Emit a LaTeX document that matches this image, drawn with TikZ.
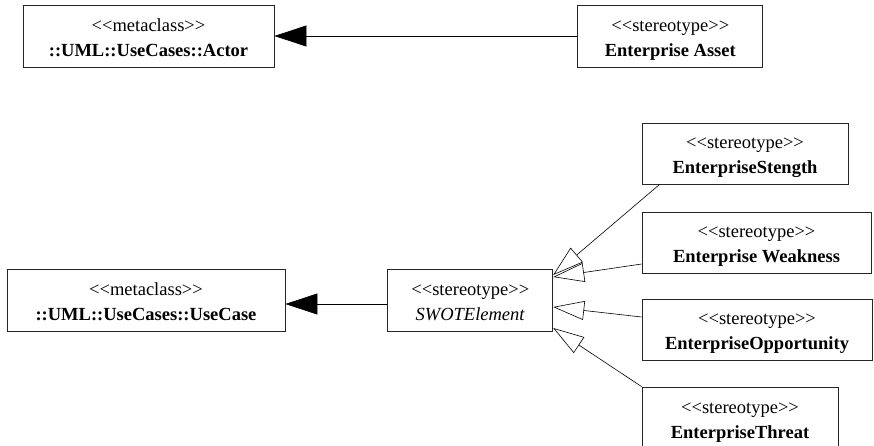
\documentclass[tikz,border=0pt]{standalone}
\usepackage{fontspec}
\setmainfont{Liberation Serif}
\usetikzlibrary{arrows.meta, positioning}
\newcommand{\stereo}[1]{<\kern0pt<#1>\kern0pt>}

\begin{document}
\begin{tikzpicture}[x=1pt, y=-1pt,
      box/.style={draw=black!85, line width=0.8pt, minimum height=62pt, inner sep=0pt,
                  text height=43pt, text depth=3pt,
                  align=center, font=\fontsize{18.5}{25}\selectfont},
      gen/.style={-{Triangle[open, length=31pt, width=19pt]}, line width=0.6pt},
      ext/.style={-{Triangle[length=32pt, width=21pt]}, line width=0.6pt}]
    \useasboundingbox (0,0) rectangle (874,445);
    \node[box, minimum width=251pt] (actor) at (148.5,36) {\stereo{metaclass}\\\textbf{::UML::UseCases::Actor}};
    \node[box, minimum width=185pt, right=303pt of actor] (asset) {\stereo{stereotype}\\\textbf{Enterprise Asset}};
    \node[box, minimum width=278pt] (usecase) at (146,300) {\stereo{metaclass}\\\textbf{::UML::UseCases::UseCase}};
    \node[box, minimum width=165pt, right=102pt of usecase] (swot) {\stereo{stereotype}\\\textit{SWOTElement}};
    \node[box, minimum width=206pt, minimum height=61pt] (strength) at (745,153.5) {\stereo{stereotype}\\\textbf{EnterpriseStength}};
    \node[box, minimum width=229pt, minimum height=61pt] (weakness) at (756.5,242.5) {\stereo{stereotype}\\\textbf{Enterprise Weakness}};
    \node[box, minimum width=230pt, minimum height=61pt] (opportunity) at (757,329.5) {\stereo{stereotype}\\\textbf{EnterpriseOpportunity}};
    \node[box, minimum width=196pt] (threat) at (740,418) {\stereo{stereotype}\\\textbf{EnterpriseThreat}};
    \draw[ext] (asset.west) -- (asset.west -| actor.east);
    \draw[ext] ([yshift=-4pt]swot.west) -- ([yshift=-4pt]usecase.east);
    \draw[gen] ([xshift=18pt]strength.south west) -- ([yshift=25pt]swot.east);
    \draw[gen] ([yshift=-21.5pt]weakness.west) -- ([yshift=23pt]swot.east);
    \draw[gen] ([yshift=12.5pt]opportunity.west) -- ([yshift=-7pt]swot.east);
    \draw[gen] (threat.north west) -- ([yshift=-28pt]swot.east);
  \end{tikzpicture}
\end{document}
